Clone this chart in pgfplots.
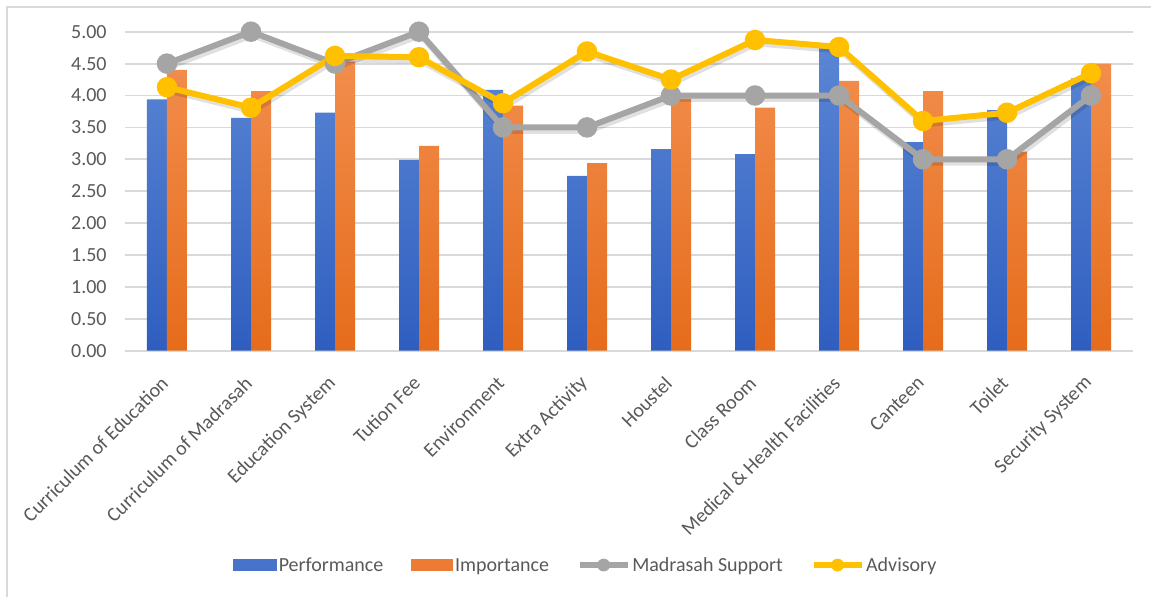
\documentclass[border=0pt]{standalone}
\usepackage{pgfplots}
\pgfplotsset{compat=1.18}
\usepackage{fontspec}
\setmainfont{Carlito}
\definecolor{txt}{HTML}{595959}
\definecolor{grd}{HTML}{D9D9D9}
\definecolor{bluetop}{HTML}{5A86D4}
\definecolor{bluebot}{HTML}{2F5EBF}
\definecolor{orgtop}{HTML}{F28D4C}
\definecolor{orgbot}{HTML}{E56C1B}
\definecolor{gry}{HTML}{A5A5A5}
\definecolor{yel}{HTML}{FFC000}
\pgfplotstableread{
x perf imp mad adv
0 3.94 4.40 4.5 4.13
1 3.65 4.07 5.0 3.81
2 3.73 4.53 4.5 4.62
3 2.99 3.21 5.0 4.60
4 4.09 3.84 3.5 3.88
5 2.74 2.94 3.5 4.69
6 3.16 3.95 4.0 4.25
7 3.08 3.81 4.0 4.87
8 4.74 4.23 4.0 4.76
9 3.27 4.07 3.0 3.60
10 3.77 3.12 3.0 3.73
11 4.27 4.50 4.0 4.35
}\data
\begin{document}
\begin{tikzpicture}
\useasboundingbox (-62.5pt,-123.15pt) rectangle (513pt,175.35pt);
\draw[grd, line width=1pt] (-59pt,-140pt) -- (-59pt,171.85pt) -- (530pt,171.85pt);
\begin{axis}[
  at={(0,0)}, anchor=south west,
  scale only axis, width=504pt, height=159.5pt,
  xmin=-0.5, xmax=11.5, ymin=0, ymax=5,
  axis line style={draw=none},
  major tick length=0pt,
  ytick={0,0.5,...,5},
  ymajorgrids, grid style={grd, line width=0.9pt},
  xtick={0,...,11},
  xticklabels={Curriculum of Education, Curriculum of Madrasah, Education System, Tution Fee, Environment, Extra Activity, Houstel, Class Room, Medical \& Health Facilities, Canteen, Toilet, Security System},
  xticklabel style={rotate=45, anchor=east, inner sep=0pt, xshift=-11pt, yshift=-9.5pt, font=\fontsize{10}{12}\selectfont, text=txt},
  yticklabel style={font=\fontsize{10}{12}\selectfont, text=txt, inner sep=0pt, xshift=-9pt,
    /pgf/number format/.cd, fixed, fixed zerofill, precision=2, assume math mode=true},
  legend columns=4,
  legend style={at={(0.457,-0.675)}, anchor=center, draw=none, fill=none,
    font=\fontsize{10}{12}\selectfont, text=txt,
    /tikz/every even column/.append style={column sep=13pt},
    nodes={inner sep=1pt, anchor=base west}},
]
\addlegendimage{legend image code/.code={\fill[bluetop!55!bluebot] (0pt,0.6pt) rectangle (21.5pt,5.8pt);}}
\addlegendimage{legend image code/.code={\fill[orgtop!50!orgbot] (0pt,0.6pt) rectangle (20.5pt,5.8pt);}}
\addlegendimage{legend image code/.code={\draw[gry, line width=2.6pt] (0pt,3.2pt) -- (24pt,3.2pt); \fill[gry] (12pt,3.2pt) circle (3pt);}}
\addlegendimage{legend image code/.code={\draw[yel, line width=2.6pt] (0pt,3.2pt) -- (24pt,3.2pt); \fill[yel] (12pt,3.2pt) circle (3pt);}}
\addplot[ybar, bar width=10pt, bar shift=-5pt, draw=none, top color=bluetop, bottom color=bluebot, forget plot]
  table[x=x, y=perf] {\data};
\addplot[ybar, bar width=10pt, bar shift=5pt, draw=none, top color=orgtop, bottom color=orgbot, forget plot]
  table[x=x, y=imp] {\data};
\addplot[sharp plot, black, opacity=0.12, line width=3.2pt, shift={(0.8pt,-1.6pt)}, forget plot]
  table[x=x, y=mad] {\data};
\addplot[sharp plot, gry, line width=3pt, mark=*, mark size=3.6pt, mark options={fill=gry, draw=gry}, forget plot]
  table[x=x, y=mad] {\data};
\addplot[sharp plot, black, opacity=0.12, line width=3.2pt, shift={(0.8pt,-1.6pt)}, forget plot]
  table[x=x, y=adv] {\data};
\addplot[sharp plot, yel, line width=3pt, mark=*, mark size=3.6pt, mark options={fill=yel, draw=yel}, forget plot]
  table[x=x, y=adv] {\data};
\legend{Performance, Importance, Madrasah Support, Advisory}
\end{axis}
\end{tikzpicture}
\end{document}
